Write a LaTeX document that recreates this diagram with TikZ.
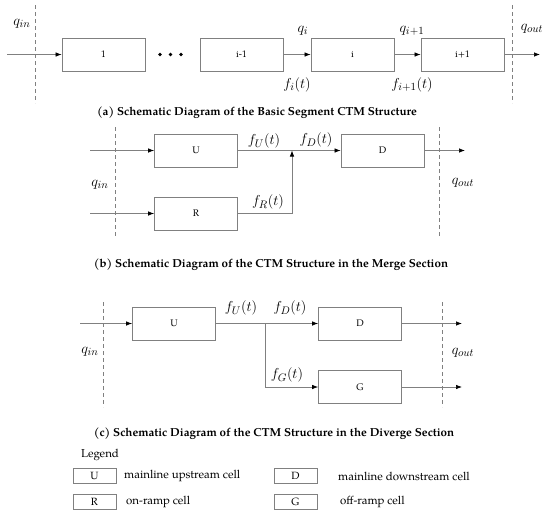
\documentclass[tikz,border=0pt]{standalone}
\usepackage{fontspec}
\setmainfont{TeX Gyre Pagella}
\usetikzlibrary{arrows.meta}
\definecolor{lgray}{gray}{0.5}
\tikzset{
  cell/.style={draw=lgray, line width=0.8pt, minimum width=83pt, minimum height=33pt, inner sep=0pt, font=\fontsize{9.5}{10}\selectfont},
  lcell/.style={draw=lgray, line width=0.8pt, minimum width=43pt, minimum height=15pt, inner sep=0pt, font=\fontsize{10.5}{11}\selectfont},
  flow/.style={draw=lgray, line width=0.7pt, -{Latex[length=6pt,width=4.5pt,color=black]}},
  plain/.style={draw=lgray, line width=0.7pt},
  bound/.style={draw=lgray, line width=0.7pt, dash pattern=on 4pt off 3pt},
  lab/.style={inner sep=0pt, font=\fontsize{15.5}{17}\selectfont},
  captxt/.style={inner sep=0pt, font=\bfseries\fontsize{11.6}{13}\selectfont},
  leg/.style={inner sep=0pt, anchor=west, font=\fontsize{11.5}{13}\selectfont},
}
\begin{document}
\begin{tikzpicture}[x=1pt,y=-1pt]
\useasboundingbox (0,0) rectangle (550,515);
% ---------- (a)
\draw[bound] (35,5) -- (35,103);
\draw[bound] (512,5) -- (512,103);
\node[cell] (a1) at (103.5,54.5) {1};
\node[cell] (aim) at (241.5,54.5) {i-1};
\node[cell] (ai) at (352.5,54.5) {i};
\node[cell] (aip) at (462.5,54.5) {i+1};
\coordinate (ain) at (7,54.5);
\coordinate (aout) at (540,54.5);
\draw[flow] (ain) -- (a1);
\draw[flow] (aim) -- (ai);
\draw[flow] (ai) -- (aip);
\draw[flow] (aip) -- (aout);
\fill (160,54.5) circle (1.8) (170.5,54.5) circle (1.8) (181,54.5) circle (1.8);
\node[lab] (aqin) at (22,24) {$q_{in}$};
\node[lab] (aqi) at (303,31) {$q_i$};
\node[lab] (aqip) at (412,31) {$q_{i+1}$};
\node[lab] (aqout) at (532,29) {$q_{out}$};
\node[lab] (afi) at (297,85) {$f_i(t)$};
\node[lab] (afip) at (412,85) {$f_{i+1}(t)$};
\node[captxt] (capa) at (257,113) {(a) Schematic Diagram of the Basic Segment CTM Structure};
% ---------- (b)
\draw[bound] (115,127) -- (115,238);
\draw[bound] (439,127) -- (439,238);
\node[cell] (bU) at (196,150.5) {U};
\node[cell] (bR) at (196,213.5) {R};
\node[cell] (bD) at (382.5,150.5) {D};
\coordinate (bin1) at (90,150.5);
\coordinate (bin2) at (90,213.5);
\coordinate (bm) at (292,150.5);
\coordinate (bout) at (465,150.5);
\draw[flow] (bin1) -- (bU);
\draw[flow] (bin2) -- (bR);
\draw[flow] (bU) -- (bD);
\draw[flow] (bR.east) -| (bm);
\draw[flow] (bD) -- (bout);
\node[lab] (bfU) at (264,141) {$f_U(t)$};
\node[lab] (bfD) at (316,140) {$f_D(t)$};
\node[lab] (bfR) at (268,202) {$f_R(t)$};
\node[lab] (bqin) at (100,185) {$q_{in}$};
\node[lab] (bqout) at (463,183) {$q_{out}$};
\node[captxt] (capb) at (271,265) {(b) Schematic Diagram of the CTM Structure in the Merge Section};
% ---------- (c)
\draw[bound] (103,302) -- (103,407);
\draw[bound] (442,302) -- (442,407);
\node[cell] (cU) at (174,323.5) {U};
\node[cell] (cD) at (360,323.5) {D};
\node[cell] (cG) at (360,387) {G};
\coordinate (cin) at (80,323.5);
\coordinate (cb) at (265,323.5);
\coordinate (cout1) at (462,323.5);
\coordinate (cout2) at (462,387);
\draw[flow] (cin) -- (cU);
\draw[flow] (cU) -- (cD);
\draw[flow] (cb) |- (cG);
\draw[flow] (cD) -- (cout1);
\draw[flow] (cG) -- (cout2);
\node[lab] (cfU) at (241,308) {$f_U(t)$};
\node[lab] (cfD) at (290,308) {$f_D(t)$};
\node[lab] (cfG) at (287,375) {$f_G(t)$};
\node[lab] (cqin) at (90,352) {$q_{in}$};
\node[lab] (cqout) at (463,353) {$q_{out}$};
\node[captxt] (capc) at (274,434) {(c) Schematic Diagram of the CTM Structure in the Diverge Section};
% ---------- legend
\node[inner sep=0pt, font=\fontsize{11.5}{13}\selectfont] (legt) at (100,455) {Legend};
\node[lcell] (lU) at (94.5,475.5) {U};
\node[lcell] (lR) at (94.5,502) {R};
\node[lcell] (lD) at (295.5,475.5) {D};
\node[lcell] (lG) at (295.5,502) {G};
\node[leg] (tU) at (124,476) {mainline upstream cell};
\node[leg] (tR) at (126,502) {on-ramp cell};
\node[leg] (tD) at (338,476) {mainline downstream cell};
\node[leg] (tG) at (340,502) {off-ramp cell};
\end{tikzpicture}
\end{document}
